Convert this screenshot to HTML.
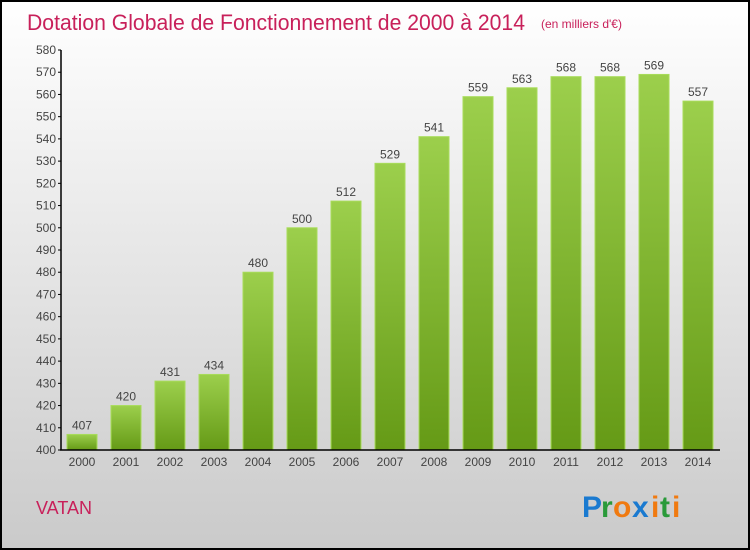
<!DOCTYPE html>
<html><head><meta charset="utf-8"><style>
body{margin:0;}
svg{display:block;font-family:"Liberation Sans",sans-serif;}
</style></head><body>
<svg id="c" width="750" height="550" xmlns="http://www.w3.org/2000/svg">
<defs>
<linearGradient id="bg" x1="0" y1="0" x2="0" y2="1"><stop offset="0" stop-color="#ffffff"/><stop offset="1" stop-color="#cacaca"/></linearGradient>
<linearGradient id="bar" x1="0" y1="0" x2="0" y2="1"><stop offset="0" stop-color="#9ccf4c"/><stop offset="1" stop-color="#659a16"/></linearGradient>
</defs>
<rect x="1" y="1" width="748" height="548" fill="url(#bg)" stroke="#000" stroke-width="2"/>
<text x="27" y="30" font-size="22" fill="#c8205a" textLength="498" lengthAdjust="spacingAndGlyphs">Dotation Globale de Fonctionnement de 2000 à 2014</text>
<text x="541" y="28" font-size="12" fill="#c8205a">(en milliers d'€)</text>
<g id="yaxis"></g>
<g id="bars"></g>
<g id="xaxis"></g>
<text x="36" y="514" font-size="18" fill="#c8205a">VATAN</text>
<g font-size="30" font-family="'Liberation Sans',sans-serif" font-weight="bold">
<text x="582" y="517" fill="#1a7ad0">P</text><text x="601" y="517" fill="#2a9a3a">r</text><text x="613" y="517" fill="#f07a10">o</text><text x="632" y="517" fill="#1a7ad0">x</text><text x="651" y="517" fill="#f07a10">i</text><text x="660" y="517" fill="#2a9a3a">t</text><text x="672" y="517" fill="#f07a10">i</text>
</g>
</svg>
<script>
const categories=["2000","2001","2002","2003","2004","2005","2006","2007","2008","2009","2010","2011","2012","2013","2014"];
const values=[407,420,431,434,480,500,512,529,541,559,563,568,568,569,557];
const yTicks=[400,410,420,430,440,450,460,470,480,490,500,510,520,530,540,550,560,570,580];
const NS="http://www.w3.org/2000/svg";
const y=v=>450-(v-400)*400/180;
const x=i=>82+i*44;
function mk(t,a,p){const e=document.createElementNS(NS,t);for(const k in a)e.setAttribute(k,a[k]);p.appendChild(e);return e;}
const ya=document.getElementById('yaxis'),xa=document.getElementById('xaxis'),bg=document.getElementById('bars');
mk('line',{x1:61,y1:y(580),x2:61,y2:450,stroke:'#000','stroke-width':1.5},ya);
yTicks.forEach(t=>{
 const l=mk('line',{x1:58,x2:61,y1:y(t),y2:y(t),stroke:'#000'},ya);
 
 
 const tx=mk('text',{x:56,y:y(t)+4,'text-anchor':'end','font-size':12,fill:'#444'},ya);
 tx.textContent=t;
 
 
});
categories.forEach((c,i)=>{
 const r=mk('rect',{x:x(i)-15,y:y(values[i]),width:30,height:450-y(values[i]),fill:'url(#bar)',stroke:'#a8dc5a','stroke-width':1},bg);
 
 
 const v=mk('text',{x:x(i),y:y(values[i])-5,'text-anchor':'middle','font-size':12,fill:'#444'},bg);
 v.textContent=values[i];
 
 
 const t=mk('text',{x:x(i),y:466,'text-anchor':'middle','font-size':12,fill:'#444'},xa);
 t.textContent=c;
 
 
});
mk('line',{x1:60,y1:450,x2:720,y2:450,stroke:'#000','stroke-width':1.5},xa);
</script>
</body></html>
